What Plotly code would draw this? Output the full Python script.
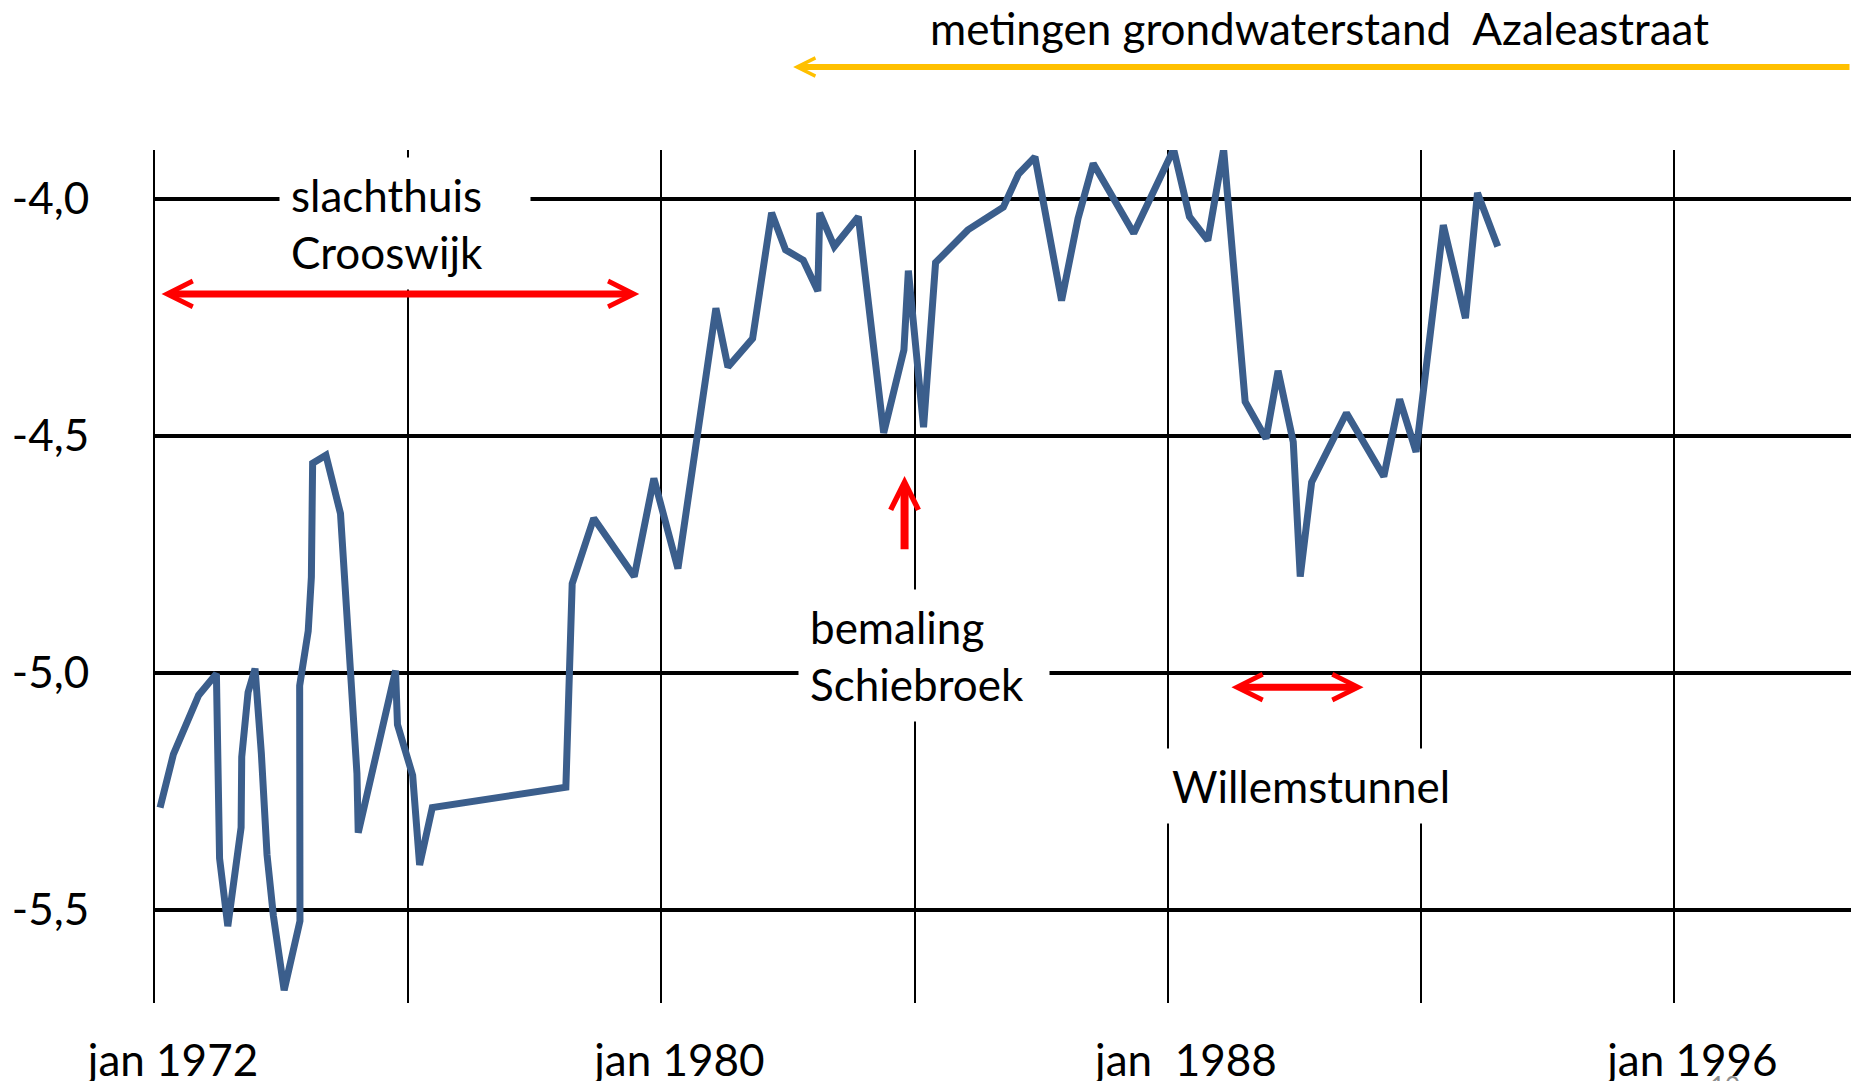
import plotly.graph_objects as go

# ---------------- data ----------------
years = [1972.08, 1972.29, 1972.69, 1972.97, 1973.02, 1973.15, 1973.36, 1973.37, 1973.47, 1973.58,
         1973.68, 1973.77, 1973.87, 1974.04, 1974.29, 1974.28, 1974.285, 1974.42, 1974.47, 1974.49,
         1974.70, 1974.93, 1975.19, 1975.21, 1975.80, 1975.83, 1976.07, 1976.18, 1976.38, 1978.49,
         1978.59, 1978.93, 1979.57, 1979.88, 1980.26, 1980.86, 1981.05, 1981.44, 1981.74, 1981.96,
         1982.24, 1982.47, 1982.50, 1982.73, 1983.11, 1983.51, 1983.83, 1983.90, 1984.14, 1984.33,
         1984.84, 1985.40, 1985.64, 1985.90, 1986.32, 1986.58, 1986.82, 1987.46, 1988.09, 1988.34,
         1988.63, 1988.88, 1989.22, 1989.55, 1989.74, 1989.98, 1990.09, 1990.27, 1990.82, 1991.41,
         1991.66, 1991.92, 1992.35, 1992.70, 1992.89, 1993.21]
levels = [-5.284, -5.172, -5.047, -5.002, -5.391, -5.534, -5.326, -5.177, -5.041, -4.991,
          -5.170, -5.384, -5.512, -5.669, -5.523, -5.227, -5.027, -4.912, -4.798, -4.558,
          -4.541, -4.664, -5.212, -5.337, -4.995, -5.109, -5.216, -5.405, -5.284, -5.241,
          -4.812, -4.674, -4.797, -4.590, -4.780, -4.231, -4.355, -4.295, -4.030, -4.108,
          -4.130, -4.195, -4.030, -4.101, -4.038, -4.494, -4.319, -4.152, -4.482, -4.135,
          -4.066, -4.018, -3.948, -3.912, -4.215, -4.042, -3.926, -4.073, -3.896, -4.038,
          -4.088, -3.896, -4.428, -4.506, -4.363, -4.513, -4.797, -4.598, -4.452, -4.586,
          -4.423, -4.534, -4.056, -4.252, -3.988, -4.101]

x_tickvals = [1972, 1976, 1980, 1984, 1988, 1992, 1996]
x_ticktext = ["jan 1972", "", "jan 1980", "", "jan\u00a0 1988", "", "jan 1996"]
y_tickvals = [-4.0, -4.5, -5.0, -5.5]
y_ticktext = ["-4,0", "-4,5", "-5,0", "-5,5"]

# annotated periods (years) and arrow levels
slachthuis_period = [1972.08, 1979.65]
slachthuis_level = -4.201
bemaling_year = 1983.84
bemaling_levels = [-4.7425, -4.585]
willems_period = [1988.98, 1991.09]
willems_level = -5.030
azalea_start = 1982.08

# ---------------- layout constants ----------------
W, H = 1851, 1081
ML, MT, MR, MB = 155, 150, 0, 78
PW, PH = W - ML - MR, H - MT - MB
x_range = [1972, 1998.79]
y_range = [-5.696, -3.8975]
FONT = "Lato, sans-serif"
BLUE = "#3b5e8c"
RED = "#ff0000"
YELLOW = "#ffc000"


def px(xp):
    return (xp - ML) / PW


def py(yp):
    return (H - MB - yp) / PH


fig = go.Figure()
fig.add_trace(go.Scatter(x=years, y=levels, mode="lines",
                         line=dict(color=BLUE, width=7), cliponaxis=False,
                         hoverinfo="skip", showlegend=False))

annotations = []
# red double arrow slachthuis
annotations.append(dict(x=slachthuis_period[1], y=slachthuis_level, ax=slachthuis_period[0],
                        ay=slachthuis_level, xref="x", yref="y", axref="x", ayref="y", text="",
                        showarrow=True, arrowhead=5, startarrowhead=5, arrowside="end+start",
                        arrowsize=0.72, startarrowsize=0.72, arrowwidth=7, arrowcolor=RED,
                        standoff=0, startstandoff=0))
# red up arrow bemaling
annotations.append(dict(x=bemaling_year, y=bemaling_levels[1], ax=bemaling_year,
                        ay=bemaling_levels[0], xref="x", yref="y", axref="x", ayref="y", text="",
                        showarrow=True, arrowhead=5, arrowsize=0.68, arrowwidth=8, arrowcolor=RED,
                        standoff=0, startstandoff=0))
# red double arrow Willemstunnel
annotations.append(dict(x=willems_period[1], y=willems_level, ax=willems_period[0],
                        ay=willems_level, xref="x", yref="y", axref="x", ayref="y", text="",
                        showarrow=True, arrowhead=5, startarrowhead=5, arrowside="end+start",
                        arrowsize=0.72, startarrowsize=0.72, arrowwidth=7, arrowcolor=RED,
                        standoff=0, startstandoff=0))
# yellow arrow (measurements Azaleastraat)
annotations.append(dict(x=azalea_start, y=py(67), ax=x_range[1], ay=0,
                        xref="x", yref="paper", axref="x", ayref="pixel", text="",
                        showarrow=True, arrowhead=5, arrowsize=0.6, arrowwidth=6,
                        arrowcolor=YELLOW, standoff=0, startstandoff=0))

textfont = dict(family=FONT, size=44, color="black")
annotations.append(dict(x=px(1319), y=py(28), xref="paper", yref="paper",
                        text="metingen grondwaterstand\u00a0 Azaleastraat",
                        showarrow=False, xanchor="center", yanchor="middle", font=textfont))
annotations.append(dict(x=px(279), y=py(157), xref="paper", yref="paper",
                        text="slachthuis<br>Crooswijk", align="left", width=228,
                        showarrow=False, xanchor="left", yanchor="top", font=textfont,
                        bgcolor="white", borderpad=11))
annotations.append(dict(x=px(798), y=py(589), xref="paper", yref="paper",
                        text="bemaling<br>Schiebroek", align="left", width=228,
                        showarrow=False, xanchor="left", yanchor="top", font=textfont,
                        bgcolor="white", borderpad=11))
annotations.append(dict(x=px(1160), y=py(748), xref="paper", yref="paper",
                        text="Willemstunnel", align="left",
                        showarrow=False, xanchor="left", yanchor="top", font=textfont,
                        bgcolor="white", borderpad=11))
annotations.append(dict(x=px(1725), y=py(1068), xref="paper", yref="paper",
                        text="10", showarrow=False, xanchor="center", yanchor="top",
                        font=dict(family=FONT, size=26, color="#8c8c8c")))

fig.update_layout(
    width=W, height=H,
    margin=dict(l=ML, r=MR, t=MT, b=MB, pad=0, autoexpand=False),
    paper_bgcolor="white", plot_bgcolor="white",
    showlegend=False,
    annotations=annotations,
)
fig.update_xaxes(range=x_range, tickmode="array", tickvals=x_tickvals, ticktext=x_ticktext,
                 showgrid=True, gridcolor="black", gridwidth=2, zeroline=False,
                 showline=False, ticks="", tickfont=dict(family=FONT, size=44, color="black"),
                 ticklabelstandoff=28, ticklabelshift=18, automargin=False, fixedrange=True)
fig.update_yaxes(range=y_range, tickmode="array", tickvals=y_tickvals, ticktext=y_ticktext,
                 showgrid=True, gridcolor="black", gridwidth=4, zeroline=False,
                 showline=True, linecolor="black", linewidth=2, ticks="",
                 tickfont=dict(family=FONT, size=44, color="black"),
                 ticklabelstandoff=55, automargin=False, fixedrange=True)

fig.write_html("out.html", config={"displayModeBar": False},
               post_script="document.body.style.margin='0px';document.body.style.overflow='hidden';")
